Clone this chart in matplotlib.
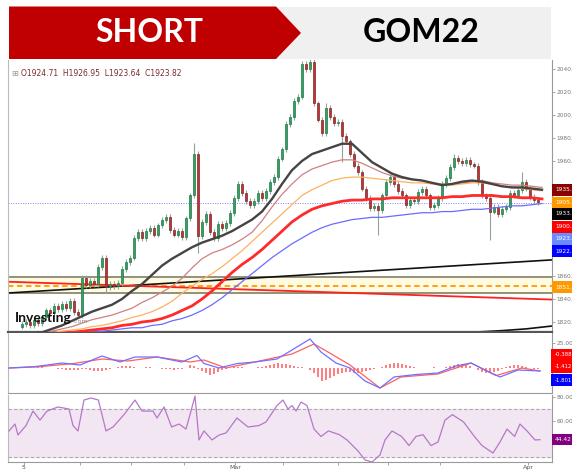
import matplotlib
matplotlib.use('Agg')
import matplotlib.pyplot as plt
import matplotlib.transforms as mtransforms
from matplotlib.patches import Polygon
from matplotlib.ticker import FormatStrFormatter

# ---- candles (one value per bar, opens = previous close) ----
first_open = 1816
closes = [1818, 1820, 1817, 1822, 1819, 1824, 1830, 1828, 1834, 1831,
          1836, 1832, 1838, 1829, 1826, 1858, 1852, 1856, 1853, 1868,
          1876, 1850, 1853, 1851, 1854, 1866, 1872, 1876, 1893, 1898,
          1893, 1899, 1902, 1896, 1904, 1909, 1911, 1900, 1896, 1899,
          1894, 1910, 1930, 1966, 1895, 1907, 1914, 1898, 1893, 1905,
          1902, 1906, 1915, 1928, 1940, 1932, 1925, 1922, 1925, 1932,
          1928, 1934, 1942, 1946, 1962, 1970, 1992, 1998, 2012, 2016,
          2044, 2040, 2046, 2010, 1996, 1984, 2006, 1998, 1993, 1994,
          1982, 1977, 1966, 1956, 1950, 1936, 1928, 1919, 1921, 1917,
          1930, 1942, 1946, 1940, 1934, 1930, 1922, 1926, 1925, 1933,
          1936, 1930, 1920, 1922, 1928, 1940, 1945, 1955, 1963, 1960,
          1958, 1961, 1957, 1956, 1942, 1930, 1928, 1916, 1920, 1914,
          1918, 1920, 1932, 1930, 1935, 1942, 1936, 1929, 1926, 1924]
wick_highs = {43: 1976, 72: 2050, 125: 1950, 108: 1966, 76: 2010}
wick_lows = {44: 1880, 65: 1960, 80: 1959, 89: 1896, 117: 1891, 21: 1846}
last_price = 1923.82

# ---- moving averages, read every 2.5 bars ----
ma_idx = [i * 2.5 for i in range(53)]
ma_black = [1809, 1810, 1811, 1814, 1817, 1821, 1825, 1829, 1832, 1835,
            1840, 1847, 1853, 1861, 1869, 1875, 1880, 1885, 1889, 1892,
            1895, 1899, 1904, 1909, 1916, 1927, 1940, 1952, 1960, 1966,
            1969, 1972, 1975, 1975, 1967, 1959, 1954, 1949, 1946, 1944,
            1943, 1941, 1939, 1940, 1942, 1943, 1942, 1940, 1938, 1937,
            1937, 1936, 1935]
ma_brown = [1809, 1810, 1811, 1812, 1814, 1816, 1819, 1822, 1824, 1826,
            1829, 1832, 1837, 1841, 1846, 1851, 1858, 1867, 1875, 1880,
            1883, 1887, 1892, 1898, 1908, 1920, 1931, 1940, 1948, 1953,
            1956, 1959, 1961, 1961, 1958, 1954, 1950, 1947, 1945, 1944,
            1943, 1941, 1940, 1940, 1941, 1942, 1943, 1941, 1940, 1939,
            1939, 1938, 1937]
ma_orange = [1809, 1809, 1810, 1811, 1812, 1813, 1814, 1816, 1817, 1819,
             1821, 1824, 1826, 1829, 1833, 1838, 1845, 1851, 1857, 1862,
             1868, 1875, 1882, 1890, 1898, 1906, 1914, 1922, 1930, 1935,
             1939, 1943, 1945, 1946, 1946, 1945, 1944, 1943, 1942, 1941,
             1941, 1940, 1939, 1939, 1940, 1941, 1941, 1940, 1938, 1937,
             1936, 1935, 1934]
ma_red = [1809, 1809, 1810, 1810, 1811, 1811, 1812, 1813, 1814, 1815,
          1817, 1818, 1820, 1821, 1823, 1826, 1830, 1834, 1840, 1847,
          1855, 1863, 1870, 1876, 1883, 1891, 1899, 1907, 1913, 1918,
          1921, 1923, 1925, 1926, 1926, 1927, 1927, 1928, 1928, 1928,
          1928, 1928, 1928, 1929, 1929, 1930, 1930, 1930, 1929, 1929,
          1928, 1928, 1927]
ma_blue = [1808, 1808, 1809, 1809, 1810, 1810, 1811, 1812, 1812, 1813,
           1814, 1815, 1815, 1817, 1818, 1821, 1823, 1826, 1830, 1835,
           1841, 1848, 1855, 1862, 1869, 1876, 1882, 1888, 1893, 1898,
           1902, 1905, 1907, 1909, 1910, 1911, 1911, 1912, 1913, 1914,
           1915, 1915, 1916, 1916, 1917, 1918, 1918, 1919, 1920, 1921,
           1921, 1922, 1923]

# ---- drawn lines / zones ----
line_ends = [-3.5, 132.5]
trend_black = [1845.2, 1874.0]
trend_red = [1855.0, 1839.5]
zone = [1845.0, 1859.0]
orange_level = 1851.4
corner_idx = [112, 120, 126, 132.5]
corner_vals = [1811, 1812.5, 1814, 1816.5]

# right side price tags
price_tags = [("1935.", 1934.8, "#8b0000"), ("1905.", 1923.5, "#ff9900"),
              ("1933.", 1913.9, "#000000"), ("1900.", 1902.6, "#ff0000"),
              ("1923.", 1892.2, "#6b8cff"), ("1922.", 1881.7, "#0000ff"),
              ("1851.", 1850.4, "#ff9900")]
price_ticks = [1820, 1840, 1860, 1960, 1980, 2000, 2020, 2040]

# ---- MACD ----
macd_idx = [-3.25, 3.5, 10, 14.5, 20, 24.5, 28.25, 33.75, 40, 43.75, 45.5, 49.25, 53.75,
            58.25, 63.75, 67.5, 72, 74.75, 78.5, 82, 85.75, 89.5, 93, 98.5, 104, 108.5,
            112.25, 115.75, 119.5, 124, 129.5]
macd_vals = [0, 1.5, 5, 3, 12, 6, 11, 11, 6, 12.5, 4.5, 0, 4.4, 6, 9, 18, 29, 16, 5, 0,
             -13, -20, -9, -6.5, -5, 2, 5, -2, -9, -2, -3]
signal_idx = [-3.25, 3.5, 12.75, 20, 26.5, 33.75, 42, 45.5, 51, 58.25, 67.5, 73, 76.5, 82,
              89.5, 94.75, 104, 112.25, 118.5, 125, 129.5]
signal_vals = [0, 1, 4.4, 9, 7, 11, 6, 8, 0, 6, 14, 24, 16, 3, -20, -9, -6, 5, -7.6, 0, -3]
hist_vals = [0, 0, 0.5, 0.5, 1, 1, 0.5, 0.5, 0, -0.5,
             -1, -1.5, -2, -2, -1.5, -1, -1, -2, -3, -3,
             -3, -2, -1, 0, 1, 2, 2.5, 2, 1, 0,
             0.5, 1, 1, 0.5, 0, -0.5, -1, -1, -1.5, -1,
             -1, 0, 3, 2, -1, -3, -5, -7, -6, -4,
             -2, -1, 0, 1, 1, 1, 0.5, 0, 0.5, 1,
             1.5, 2, 3, 4, 5, 4, 4, 3, 2, 1.5,
             1, 0, -2, -5, -9, -13, -12, -10, -8, -6,
             -5, -4, -4, -5, -5, -4, -3, -2, -1, 0,
             1, 3, 4, 5, 5, 4, 3, 2, 1, 0.5,
             0, 0, 0.5, 1, 0.5, 0, 1, 2, 3, 4,
             4, 3, 2, 0, -2, -4, -5, -5, -4, -3,
             -1, 1, 2, 3, 3, 2, 1, 0, -0.5, -1]
macd_tags = [("-0.388", 13, "#ff0000"), ("-1.412", 1, "#ff0000"), ("-1.801", -12, "#0000ff")]

# ---- RSI ----
rsi_idx = [-3.25, -1.75, -1, 1, 2.75, 4.5, 6.25, 9, 11.75, 12.75, 14, 15.5, 17.25, 19.1,
           21, 22.75, 25.5, 28.25, 30, 32.75, 33.75, 35.5, 37.4, 39.25, 41, 42, 43.25,
           44.25, 45.5, 47.5, 49.25, 51, 53.75, 56.5, 59.25, 61, 63.75, 65.25, 66.5, 67.5,
           68.5, 69.75, 71.25, 73, 74.75, 76.6, 79.35, 81.25, 84, 85.75, 87.5, 89.5, 90.75,
           92.5, 94.9, 96.75, 98.5, 100.25, 102.25, 104, 105.75, 107.6, 110.4, 113.1, 115,
           117.75, 119.5, 121.25, 123.15, 124.5, 126.25, 128.25, 129.5]
rsi_vals = [51.7, 57.5, 48.3, 56.2, 68.3, 60.8, 68.3, 71.7, 70, 56.2, 51.7, 77.5, 79.2, 77.5,
            51.7, 55, 65.3, 77.5, 68.3, 68.3, 62.5, 71.7, 55, 57.5, 53.3, 65.3, 80.8,
            44.2, 51.7, 44.2, 48.3, 50, 62.5, 55, 56.2, 59.2, 72.9, 77.5, 70, 72.9,
            68.3, 75.8, 72.9, 53.3, 47.1, 51.7, 48.6, 44.2, 35, 27.5, 25.8, 31.7, 44.2,
            51.7, 47.1, 39.5, 47.1, 48.6, 39.5, 42.5, 60.8, 65.3, 59.2, 47.1, 39.5,
            33.3, 42.5, 53.3, 47.1, 57.5, 51.7, 44.2, 44.4]

x_ticks = [0.5, 14.5, 27.25, 40.5, 53.25, 65.25, 79, 91.5, 104.5, 126.5]
x_labels = ['5', '', '', '', 'Mar', '', '', '', '', 'Apr']

W, H = 572, 471
fig = plt.figure(figsize=(W / 100, H / 100), dpi=100)


def rect(l, t, r, b):
    return [l / W, 1 - b / H, (r - l) / W, (b - t) / H]


ax = fig.add_axes(rect(8, 60, 552, 332))
macd_ax = fig.add_axes(rect(8, 333, 552, 393), sharex=ax)
rsi_ax = fig.add_axes(rect(8, 395, 552, 462), sharex=ax)

for a in (ax, macd_ax, rsi_ax):
    a.spines['top'].set_visible(False)
    a.spines['left'].set_color('#bbbbbb')
    a.spines['right'].set_color('#999999')
    a.spines['bottom'].set_color('#999999')
    a.yaxis.tick_right()
    a.tick_params(axis='y', length=2, width=0.6, color='#999999', labelsize=4.2,
                  labelcolor='#777777', pad=1)
    a.tick_params(axis='x', bottom=False, labelbottom=False)
ax.spines['bottom'].set_color('#555555')
ax.spines['bottom'].set_linewidth(1.6)

# candles
n = len(closes)
idx = list(range(n))
opens = [first_open] + closes[:-1]
highs, lows, heights, colors, edges = [], [], [], [], []
for i in idx:
    o, c = opens[i], closes[i]
    highs.append(wick_highs.get(i, max(o, c) + 2.5))
    lows.append(wick_lows.get(i, min(o, c) - 2.5))
    heights.append(c - o)
    up = c >= o
    colors.append('#34a063' if up else '#b03a3a')
    edges.append('#1f7a47' if up else '#8a2020')
ax.vlines(idx, lows, highs, color='#8fa598', lw=0.8, zorder=3)
ax.bar(idx, heights, bottom=opens, width=0.62, color=colors, edgecolor=edges,
       linewidth=0.5, zorder=4)

# zones and trend lines
ax.axhspan(zone[0], zone[1], color='#fffbe3', zorder=1)
for z in zone:
    ax.axhline(z, color='#8a8a70', lw=1.3, zorder=2)
ax.axhline(orange_level, color='#ff9900', lw=1.3, ls=(0, (3, 2)), zorder=2)
ax.plot(line_ends, trend_black, color='#111111', lw=1.2, zorder=2)
ax.plot(line_ends, trend_red, color='#ff2020', lw=1.3, zorder=2)
ax.plot(corner_idx, corner_vals, color='#111111', lw=1.2, zorder=2)
ax.axhline(last_price, color='#8080ff', lw=0.7, ls=(0, (1, 1.5)), zorder=2)

# moving averages
ax.plot(ma_idx, ma_blue, color='#6b6bff', lw=0.9, zorder=5)
ax.plot(ma_idx, ma_red, color='#ff2a2a', lw=2.0, zorder=5)
ax.plot(ma_idx, ma_orange, color='#ffb060', lw=0.9, zorder=5)
ax.plot(ma_idx, ma_brown, color='#d08080', lw=0.9, zorder=5)
ax.plot(ma_idx, ma_black, color='#444444', lw=1.7, zorder=5)

ax.set_xlim(-3.5, 132.5)
ax.set_ylim(1811.3, 2047.8)
ax.set_yticks(price_ticks)
ax.yaxis.set_major_formatter(FormatStrFormatter('%.0f.'))

tag_tr = mtransforms.blended_transform_factory(ax.transAxes, ax.transData)
for label, val, col in price_tags:
    ax.text(1.0055, val, label, transform=tag_tr, fontsize=4.2, color='white',
            va='center', ha='left', clip_on=False, zorder=20,
            bbox=dict(boxstyle='square,pad=0.55', fc=col, ec='none'))

ax.text(0.013, 0.05, 'Investing', transform=ax.transAxes, fontsize=10,
        fontweight='bold', family='Lato', color='#111111', va='center', zorder=15)
ax.text(0.118, 0.04, '.com', transform=ax.transAxes, fontsize=4.5,
        color='#888888', va='center', zorder=15)

# MACD
macd_ax.bar(range(len(hist_vals)), hist_vals, width=0.3, color='#ff8080', zorder=2)
macd_ax.plot(signal_idx, signal_vals, color='#ff6060', lw=0.9, zorder=3)
macd_ax.plot(macd_idx, macd_vals, color='#7070ff', lw=0.9, zorder=3)
macd_ax.set_ylim(-25, 35)
macd_ax.set_yticks([25])
macd_ax.yaxis.set_major_formatter(FormatStrFormatter('%.2f'))
macd_tr = mtransforms.blended_transform_factory(macd_ax.transAxes, macd_ax.transData)
for label, val, col in macd_tags:
    macd_ax.text(1.0045, val, label, transform=macd_tr, fontsize=3.9, color='white',
                 va='center', ha='left', clip_on=False, zorder=20,
                 bbox=dict(boxstyle='square,pad=0.6', fc=col, ec='none'))

# RSI
rsi_ax.axhspan(30, 70, color='#f3e6f3', zorder=1)
for lvl in (30, 70):
    rsi_ax.axhline(lvl, color='#aaaaaa', lw=0.8, ls=(0, (3, 2)), zorder=2)
rsi_ax.plot(rsi_idx, rsi_vals, color='#b577c8', lw=0.9, zorder=3)
rsi_ax.set_ylim(25.8, 81.7)
rsi_ax.set_yticks([60, 80])
rsi_ax.yaxis.set_major_formatter(FormatStrFormatter('%.2f'))
rsi_tr = mtransforms.blended_transform_factory(rsi_ax.transAxes, rsi_ax.transData)
rsi_ax.text(1.0055, rsi_vals[-1], '44.42', transform=rsi_tr, fontsize=4.2, color='white',
            va='center', ha='left', clip_on=False, zorder=20,
            bbox=dict(boxstyle='square,pad=0.55', fc='#800080', ec='none'))
rsi_ax.tick_params(axis='x', bottom=True, labelbottom=True, length=2, width=0.6,
                   color='#999999', labelsize=4.5, labelcolor='#555555', pad=0.2)
rsi_ax.set_xticks(x_ticks)
rsi_ax.set_xticklabels(x_labels)

# header and OHLC line
hd = fig.add_axes([0, 0, 1, 1], zorder=10)
hd.set_xlim(0, W)
hd.set_ylim(H, 0)
hd.axis('off')
hd.patch.set_alpha(0)
hd.add_patch(Polygon([(276, 6.5), (551, 6.5), (551, 59), (276, 59)], closed=True,
                     fc='#f0f0f0', ec='none'))
hd.add_patch(Polygon([(9, 6.5), (276, 6.5), (301, 33), (276, 59), (9, 59)], closed=True,
                     fc='#c00000', ec='none'))
hd.text(149, 33, 'SHORT', color='white', fontsize=23, fontweight='bold',
        family='Lato', ha='center', va='center')
hd.text(421, 33, 'GOM22', color='black', fontsize=23, fontweight='bold',
        family='Lato', ha='center', va='center')
hd.text(11, 73, '\u229e', color='#999999', fontsize=6, va='center')
hd.text(21, 73, 'O1924.71  H1926.95  L1923.64  C1923.82', color='#7b2b2b',
        fontsize=5.5, va='center')

plt.savefig('out.png', dpi=100)
